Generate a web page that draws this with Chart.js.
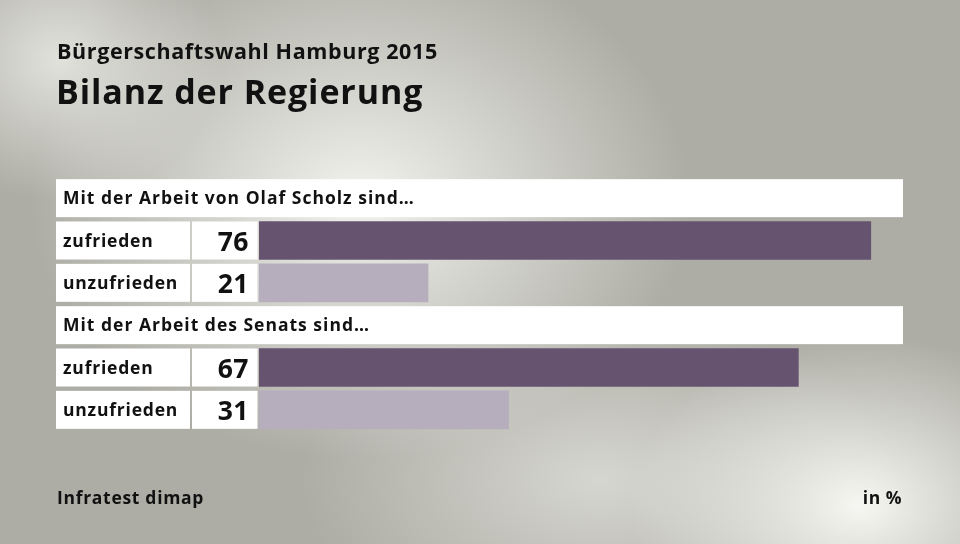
<!DOCTYPE html>
<html>
<head>
<meta charset="utf-8">
<script src="https://cdn.jsdelivr.net/npm/chart.js@4"></script>
<style>
  html, body { margin: 0; padding: 0; }
  body {
    width: 960px; height: 544px; overflow: hidden; position: relative;
    background:
      radial-gradient(ellipse 230px 170px at 860px 505px, rgba(246,246,242,1), rgba(246,246,242,0) 100%),
      radial-gradient(ellipse 330px 260px at 360px 200px, rgba(246,246,242,0.95), rgba(246,246,242,0) 100%),
      radial-gradient(ellipse 160px 140px at 60px 60px, rgba(235,235,230,0.85), rgba(235,235,230,0) 100%),
      radial-gradient(ellipse 300px 170px at 600px 480px, rgba(232,232,227,0.7), rgba(232,232,227,0) 100%),
      #adada5;
  }
  #wrap { position: absolute; left: 0; top: 0; width: 960px; height: 544px; }
</style>
</head>
<body>
<div id="wrap"><canvas id="c" width="960" height="544"></canvas></div>
<script>
const subtitle = "Bürgerschaftswahl Hamburg 2015";
const title = "Bilanz der Regierung";
const groups = ["Mit der Arbeit von Olaf Scholz sind…", "Mit der Arbeit des Senats sind…"];
const answers = ["zufrieden", "unzufrieden"];
const scholzValues = [76, 21];
const senatValues = [67, 31];
const source = "Infratest dimap";
const unit = "in %";

const answerColors = ["#665370", "#b7aebd"];
const groupValues = [scholzValues, senatValues];

// build rows: header row followed by answer rows
const rows = [];
groups.forEach((g, gi) => {
  rows.push({ header: true, text: g, value: null });
  answers.forEach((a, ai) => rows.push({ header: false, text: a, value: groupValues[gi][ai], color: answerColors[ai] }));
});
const labels = rows.map(r => r.text);
const data = rows.map(r => r.value);
const colors = rows.map(r => r.color || "rgba(0,0,0,0)");

const FONT = "'Open Sans', 'Noto Sans', sans-serif";

function txt(ctx, s, x, y, font, spacing, align) {
  ctx.font = font;
  ctx.letterSpacing = spacing + "px";
  ctx.textAlign = align || "left";
  ctx.fillText(s, x, y);
}

const boxPlugin = {
  id: 'boxes',
  beforeDatasetsDraw(chart) {
    const ctx = chart.ctx;
    const y = chart.scales.y;
    const ca = chart.chartArea;
    const h = 38;
    ctx.save();
    ctx.textBaseline = "alphabetic";
    rows.forEach((r, i) => {
      const cy = y.getPixelForValue(i);
      const top = cy - h / 2;
      ctx.fillStyle = "#ffffff";
      if (r.header) {
        ctx.fillRect(56, top, ca.right - 56, h);
        ctx.fillStyle = "#111";
        txt(ctx, r.text, 63, cy + 5.5, "700 17.5px " + FONT, 1.0);
      } else {
        ctx.fillRect(56, top, 134, h);
        ctx.fillRect(192, top, 65.5, h);
        ctx.fillStyle = "#111";
        txt(ctx, r.text, 63, cy + 6.5, "700 17.5px " + FONT, 0.8);
        txt(ctx, String(r.value), 249, cy + 10.5, "700 26.5px " + FONT, 0.5, "right");
      }
    });
    ctx.restore();
  },
  afterDraw(chart) {
    const ctx = chart.ctx;
    ctx.save();
    ctx.fillStyle = "#111";
    ctx.textBaseline = "alphabetic";
    txt(ctx, subtitle, 57, 59, "700 21.5px " + FONT, 0.6);
    txt(ctx, title, 56, 104, "700 34px " + FONT, 0.9);
    txt(ctx, source, 57, 504, "700 17.5px " + FONT, 0.7);
    txt(ctx, unit, 902, 504, "700 17.5px " + FONT, 0.5, "right");
    ctx.restore();
  }
};

new Chart(document.getElementById('c'), {
  type: 'bar',
  data: {
    labels: labels,
    datasets: [{
      data: data,
      backgroundColor: colors,
      borderWidth: 0,
      barThickness: 38
    }]
  },
  options: {
    indexAxis: 'y',
    responsive: false,
    animation: false,
    layout: { padding: { left: 259, right: 57, top: 177, bottom: 113 } },
    scales: {
      x: { display: false, min: 0, max: 80 },
      y: { display: false }
    },
    plugins: { legend: { display: false }, tooltip: { enabled: false } }
  },
  plugins: [boxPlugin]
});
</script>
</body>
</html>
